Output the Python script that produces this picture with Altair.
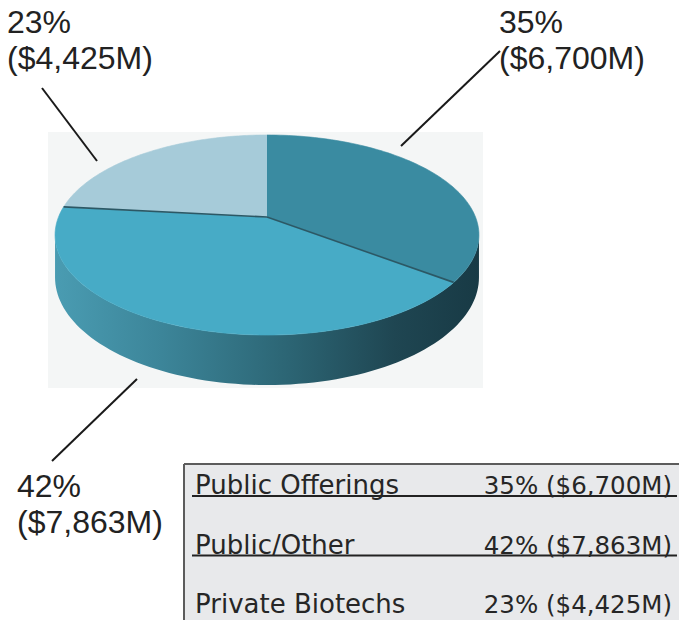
import altair as alt
import pandas as pd

# ---------------- data ----------------
categories = ["Public Offerings", "Public/Other", "Private Biotechs"]
amounts = [6700, 7863, 4425]          # $M
shares = [35, 42, 23]                 # %
slice_colors = ["#3a8ba1", "#47abc6", "#a6cbd9"]

# ---------------- layout ----------------
W, H = 679, 620
CX, CY = 267, 217          # apex of the pie (pixels)
A, B, K, D = 208.5, 96.8, 0.18, 41   # ellipse radii, perspective factor, depth
N = 90

df = pd.DataFrame({"cat": categories, "amount": amounts, "share": shares,
                   "ord": list(range(len(categories)))})

xs = alt.Scale(domain=[0, W], nice=False, zero=False)
ys = alt.Scale(domain=[0, H], nice=False, zero=False, reverse=True)


def X(f):
    return alt.X(f, type="quantitative", scale=xs, axis=None)


def Y(f):
    return alt.Y(f, type="quantitative", scale=ys, axis=None)


one = pd.DataFrame({"k": [0]})

# background panel behind the pie
panel = alt.Chart(one).mark_rect(color="#f4f6f6").encode(
    x=alt.value(48), x2=alt.value(483), y=alt.value(132), y2=alt.value(388))

# side wall of the pie
grad = alt.Gradient(
    gradient="linear", x1=0, x2=1, y1=0, y2=0,
    stops=[alt.GradientStop(color="#4a9cb2", offset=0),
           alt.GradientStop(color="#3c8599", offset=0.25),
           alt.GradientStop(color="#2c6574", offset=0.55),
           alt.GradientStop(color="#1f4652", offset=0.8),
           alt.GradientStop(color="#183a45", offset=1)])

side = alt.Chart(alt.sequence(0, 2 * N + 2, as_="i")).transform_calculate(
    th1=f"acos(-{K})",
    j=f"datum.i <= {N} ? datum.i : {2 * N + 1} - datum.i",
).transform_calculate(
    t=f"datum.th1 + (2*PI - 2*datum.th1) * datum.j / {N}",
).transform_calculate(
    w=f"1 + {K}*cos(datum.t)",
).transform_calculate(
    px=f"{CX} + {A}*sin(datum.t)/datum.w",
    py=f"{CY} - {B}*cos(datum.t)/datum.w + (datum.i > {N} ? {D}/datum.w : 0)",
).mark_line(fill=grad, strokeWidth=0).encode(
    x=X("px"), y=Y("py"), order="i:Q")


def slice_base():
    return alt.Chart(df).transform_joinaggregate(
        total="sum(amount)"
    ).transform_window(
        cum="sum(amount)", sort=[alt.SortField("ord")], frame=[None, 0]
    ).transform_calculate(
        a0="2*PI*(datum.cum - datum.amount)/datum.total",
        a1="2*PI*datum.cum/datum.total",
    )


col_scale = alt.Scale(domain=categories, range=slice_colors)

top = slice_base().transform_calculate(
    idx=f"sequence(-1, {N + 1})"
).transform_flatten(["idx"]).transform_calculate(
    t=f"datum.a0 + (datum.a1 - datum.a0) * max(datum.idx, 0) / {N}"
).transform_calculate(
    w=f"1 + {K}*cos(datum.t)"
).transform_calculate(
    px=f"datum.idx < 0 ? {CX} : {CX} + {A}*sin(datum.t)/datum.w",
    py=f"datum.idx < 0 ? {CY} : {CY} - {B}*cos(datum.t)/datum.w",
).mark_line(strokeWidth=0.6).encode(
    x=X("px"), y=Y("py"), order="idx:Q",
    fill=alt.Fill("cat:N", scale=col_scale, legend=None),
    stroke=alt.Stroke("cat:N", scale=col_scale, legend=None),
    detail="cat:N")

bounds = slice_base().transform_filter("datum.ord > 0").transform_calculate(
    w=f"1 + {K}*cos(datum.a0)"
).transform_calculate(
    bx=f"{CX} + {A}*sin(datum.a0)/datum.w",
    by=f"{CY} - {B}*cos(datum.a0)/datum.w",
    ax=f"{CX}", ay=f"{CY}",
).mark_rule(color="#2c5865", strokeWidth=1.6).encode(
    x=X("ax"), y=Y("ay"), x2="bx:Q", y2="by:Q")

# leader lines and slice labels (annotation layout)
label_layout = {
    "Private Biotechs": dict(tx=7, ty=33, line=(42, 88, 97, 161)),
    "Public Offerings": dict(tx=499, ty=33, line=(500, 51, 401, 146)),
    "Public/Other": dict(tx=17, ty=497, line=(52, 461, 137, 379)),
}

layers = [panel, side, top, bounds]
for cat, lay in label_layout.items():
    x1, y1, x2, y2 = lay["line"]
    layers.append(alt.Chart(one).mark_rule(color="#1a1a1a", strokeWidth=2).encode(
        x=alt.value(x1), y=alt.value(y1), x2=alt.value(x2), y2=alt.value(y2)))
    layers.append(alt.Chart(df).transform_filter(
        alt.datum.cat == cat
    ).transform_calculate(
        lbl="[format(datum.share, 'd') + '%', '($' + format(datum.amount, ',') + 'M)']"
    ).mark_text(font="Liberation Sans", fontSize=32, align="left",
                baseline="alphabetic", lineHeight=36, color="#222222").encode(
        x=alt.value(lay["tx"]), y=alt.value(lay["ty"]), text="lbl:N"))

# table
box = alt.Chart(one).mark_rect(color="#e8e9eb").encode(
    x=alt.value(184), x2=alt.value(W), y=alt.value(464), y2=alt.value(H))
box_top = alt.Chart(one).mark_rule(color="#5c5c5c", strokeWidth=2).encode(
    x=alt.value(184), x2=alt.value(W), y=alt.value(464))
box_left = alt.Chart(one).mark_rule(color="#5c5c5c", strokeWidth=2).encode(
    x=alt.value(184), y=alt.value(464), y2=alt.value(H))

rows = alt.Chart(df).transform_calculate(
    ty="494 + 59.5*datum.ord",
    lx="195", rx="672", ux0="192", ux1="677",
    uy="496 + 59.5*datum.ord",
    val="format(datum.share, 'd') + '% ($' + format(datum.amount, ',') + 'M)'",
)
row_names = rows.mark_text(font="DejaVu Sans", fontSize=26, align="left",
                           baseline="alphabetic", color="#262626").encode(
    x=X("lx"), y=Y("ty"), text="cat:N")
row_vals = rows.mark_text(font="DejaVu Sans", fontSize=24.5, align="right",
                          baseline="alphabetic", color="#262626").encode(
    x=X("rx"), y=Y("ty"), text="val:N")
underlines = rows.transform_filter(f"datum.ord < {len(categories) - 1}").mark_rule(
    color="#222222", strokeWidth=2).encode(x=X("ux0"), x2="ux1:Q", y=Y("uy"))

layers += [box, box_top, box_left, underlines, row_names, row_vals]

chart = alt.layer(*layers).properties(
    width=W, height=H, padding=0, autosize=alt.AutoSizeParams(type="none"),
    background="white",
).configure_view(stroke=None)

chart.save("out.html", embed_options={"renderer": "svg", "actions": False})
